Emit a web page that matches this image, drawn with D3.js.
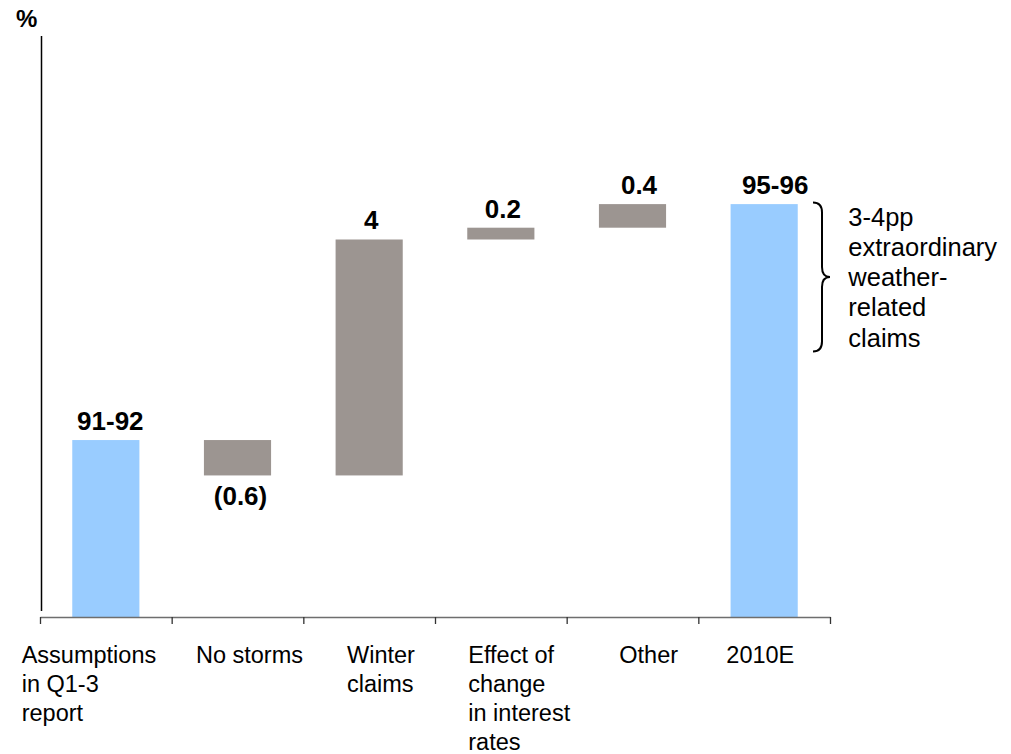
<!DOCTYPE html>
<html>
<head>
<meta charset="utf-8">
<script src="https://cdn.jsdelivr.net/npm/d3@7/dist/d3.min.js"></script>
<style>
  html, body { margin: 0; padding: 0; background: #fff; }
  svg { display: block; font-family: "Liberation Sans", Arial, sans-serif; }
</style>
</head>
<body>
<svg id="chart" width="1011" height="754"></svg>
<script>
// Combined ratio bridge: Q1-3 assumption to 2010 estimate (%)
const categories = [
  "Assumptions in Q1-3 report",
  "No storms",
  "Winter claims",
  "Effect of change in interest rates",
  "Other",
  "2010E"
];
const categoryLines = [
  ["Assumptions", "in Q1-3", "report"],
  ["No storms"],
  ["Winter", "claims"],
  ["Effect of", "change", "in interest", "rates"],
  ["Other"],
  ["2010E"]
];
const barKinds = ["total", "delta", "delta", "delta", "delta", "total"];
const values = [91.5, -0.6, 4.0, 0.2, 0.4, 95.5];
const valueLabels = ["91-92", "(0.6)", "4", "0.2", "0.4", "95-96"];
const noteLines = ["3-4pp", "extraordinary", "weather-", "related", "claims"];
const noteSpan = [95.5, 93.0];   // range bracketed by the note
const yDomain = [88.5, 98.35];

// layout
const axisY = 617;
const svg = d3.select("#chart");

const x = d3.scaleBand().domain(categories).range([40, 830]).padding(0);
const y = d3.scaleLinear().domain(yDomain).range([axisY, 36]);
const barW = x.bandwidth() * 0.51;

// running waterfall segments
let run = 0;
const segs = values.map((v, i) => {
  let lo, hi;
  if (barKinds[i] === "total") { lo = yDomain[0]; hi = v; run = v; }
  else { const start = run; run = run + v; lo = Math.min(start, run); hi = Math.max(start, run); }
  return { i, cat: categories[i], kind: barKinds[i], v, lo, hi, label: valueLabels[i] };
});

const colors = { total: "#99CCFF", delta: "#9C9591" };

// bars
svg.append("g").selectAll("rect")
  .data(segs)
  .join("rect")
  .attr("x", d => x(d.cat) + (x.bandwidth() - barW) / 2)
  .attr("width", barW)
  .attr("y", d => y(d.hi))
  .attr("height", d => y(d.lo) - y(d.hi))
  .attr("fill", d => colors[d.kind]);

// value labels: above the bar, or below for a decrease
const valueShift = [4.5, 3, 2, 2, 6.5, 11];
svg.append("g").selectAll("text")
  .data(segs)
  .join("text")
  .attr("x", d => x(d.cat) + x.bandwidth() / 2 + valueShift[d.i])
  .attr("y", d => d.v < 0 ? y(d.lo) + 30 : y(d.hi) - 10)
  .attr("text-anchor", "middle")
  .attr("font-size", 26)
  .attr("font-weight", "bold")
  .attr("fill", "#000")
  .text(d => d.label);

// x axis: ticks at category boundaries
const xb = d3.scaleLinear().domain([0, categories.length]).range(x.range());
const xAxis = svg.append("g")
  .attr("transform", `translate(0,${axisY})`)
  .call(d3.axisBottom(xb)
    .tickValues(d3.range(categories.length + 1))
    .tickFormat("")
    .tickSize(7)
    .tickSizeOuter(0));
xAxis.select(".domain").attr("stroke", "#6e6e6e").attr("stroke-width", 1.4);
xAxis.selectAll(".tick line").attr("stroke", "#333").attr("stroke-width", 1.3);

// y axis line (no ticks)
svg.append("line")
  .attr("x1", 41.5).attr("x2", 41.5)
  .attr("y1", y(yDomain[1])).attr("y2", y(88.6))
  .attr("stroke", "#000").attr("stroke-width", 1.5);

svg.append("text")
  .attr("x", 16).attr("y", 27)
  .attr("font-size", 24).attr("font-weight", "bold")
  .text("%");

// category labels, left-aligned text blocks under each band
const labelShift = [-18.3, 24.3, 43.7, 33.3, 52.6, 28];
const catText = svg.append("g").attr("font-size", 23.5).attr("fill", "#000");
categoryLines.forEach((lines, i) => {
  const t = catText.append("text")
    .attr("x", x(categories[i]) + labelShift[i])
    .attr("y", 663.3);
  lines.forEach((ln, j) => {
    t.append("tspan")
      .attr("x", x(categories[i]) + labelShift[i])
      .attr("dy", j === 0 ? 0 : 28.8)
      .text(ln);
  });
});

// curly bracket beside the 2010E bar
const bTop = y(noteSpan[0]) - 1.5, bBot = y(noteSpan[1]);
const bMid = (bTop + bBot) / 2;
const bx0 = 813, bx1 = 822, bx2 = 830;
const r = 10;
const bracket = d3.path();
bracket.moveTo(bx0, bTop);
bracket.quadraticCurveTo(bx1, bTop, bx1, bTop + r);
bracket.lineTo(bx1, bMid - r);
bracket.quadraticCurveTo(bx1, bMid, bx2, bMid);
bracket.quadraticCurveTo(bx1, bMid, bx1, bMid + r);
bracket.lineTo(bx1, bBot - r);
bracket.quadraticCurveTo(bx1, bBot, bx0, bBot);
svg.append("path")
  .attr("d", bracket.toString())
  .attr("fill", "none")
  .attr("stroke", "#000")
  .attr("stroke-width", 2);

const note = svg.append("text")
  .attr("x", 848.3).attr("y", 225.5)
  .attr("font-size", 25.5).attr("fill", "#000");
noteLines.forEach((ln, j) => {
  note.append("tspan")
    .attr("x", 848.3)
    .attr("dy", j === 0 ? 0 : 30.3)
    .text(ln);
});
</script>
</body>
</html>
